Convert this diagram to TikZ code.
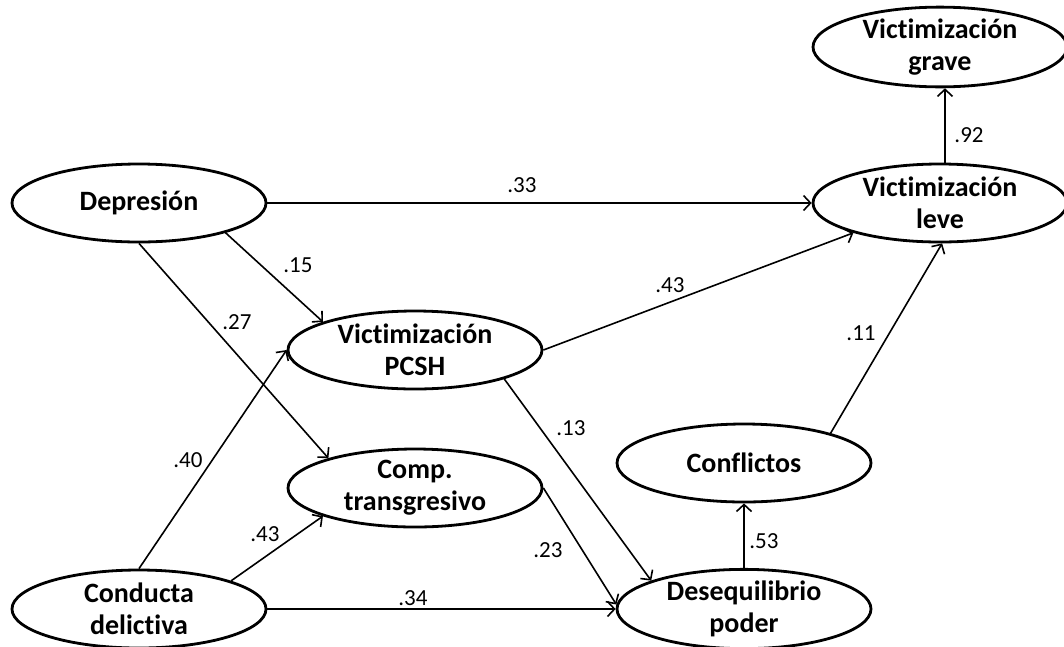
\documentclass[tikz,border=0pt]{standalone}
\usepackage{fontspec}
\setmainfont{Carlito}[Ligatures=NoCommon]
\usetikzlibrary{shapes.geometric,arrows.meta}
\begin{document}
\begin{tikzpicture}[x=1pt,y=-1pt,
  latent/.style={ellipse, draw, line width=2.8pt, inner sep=0pt,
    minimum width=254pt, minimum height=78pt, align=center,
    font=\bfseries\fontsize{28}{32}\selectfont},
  path/.style={line width=1.6pt, -{Straight Barb[length=7pt,width=15pt,line width=1.6pt]}},
  coef/.style={inner sep=0pt, font=\fontsize{23}{27}\selectfont}]
\useasboundingbox (0,0) rectangle (1064,646);

% latent variables
\node[latent] (grave) at (940,47) {Victimización\\grave};
\node[latent] (leve)  at (940,203) {Victimización\\leve};
\node[latent] (dep)   at (139,203) {Depresión};
\node[latent] (pcsh)  at (415,350) {Victimización\\PCSH};
\node[latent] (comp)  at (415,488) {Comp.\\transgresivo};
\node[latent] (conf)  at (744,463) {Conflictos};
\node[latent] (cond)  at (139,609) {Conducta\\delictiva};
\node[latent] (deseq) at (744,609) {Desequilibrio\\poder};

% structural paths
\draw[path] (dep.east) -- (leve.west);
\draw[path] (dep.-19) -- (pcsh.163);
\draw[path] (dep.south) -- (comp.161);
\draw[path] (cond.north) -- (pcsh.west);
\draw[path] (cond.17) -- (comp.197);
\draw[path] (cond.east) -- (deseq.west);
\draw[path] (pcsh.east) -- (leve.199);
\draw[path] (pcsh.-18) -- (deseq.163);
\draw[path] (comp.east) -- (deseq.178);
\draw[path] (deseq.north) -- (conf.south);
\draw[path] (conf.19) -- (leve.-87);
\draw[path] ([xshift=5pt]leve.north) -- ([xshift=5pt]grave.south);

% path coefficients
\node[coef] (c33) at (522,185) {.33};
\node[coef] (c15) at (298,265) {.15};
\node[coef] (c27) at (237,322) {.27};
\node[coef] (c40) at (188,460) {.40};
\node[coef] (c43a) at (265,534) {.43};
\node[coef] (c34) at (413,598) {.34};
\node[coef] (c43b) at (670,285) {.43};
\node[coef] (c13) at (571,428) {.13};
\node[coef] (c23) at (548,550) {.23};
\node[coef] (c53) at (764,541) {.53};
\node[coef] (c11) at (861,333) {.11};
\node[coef] (c92) at (969,135) {.92};
\end{tikzpicture}
\end{document}
